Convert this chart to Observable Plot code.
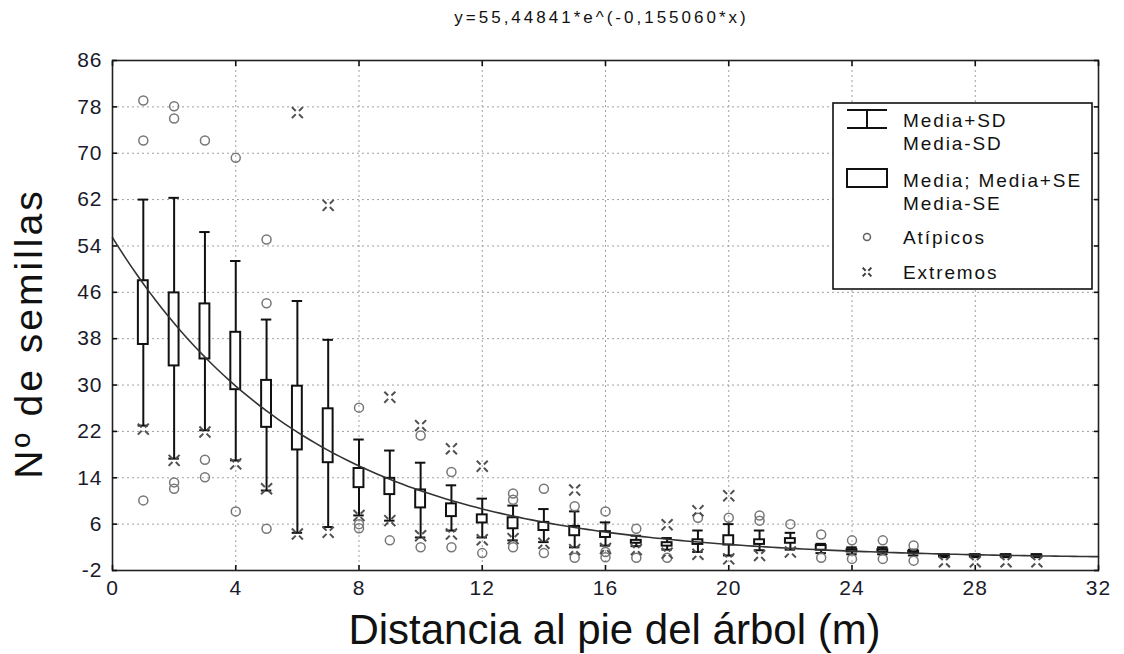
<!DOCTYPE html>
<html>
<head>
<meta charset="utf-8">
<script src="https://cdn.jsdelivr.net/npm/d3@7"></script>
<script src="https://cdn.jsdelivr.net/npm/@observablehq/plot@0.6"></script>
<style>
  body { margin: 0; background: #fff; }
  #wrap { position: relative; width: 1124px; height: 654px; font-family: "Liberation Sans", Arial, sans-serif; }
  #wrap svg text { font-family: "Liberation Sans", Arial, sans-serif; }
  #legend { position: absolute; left: 0; top: 0; pointer-events: none; }
  #legend text { font-size: 19px; letter-spacing: 1.9px; fill: #111; }
</style>
</head>
<body>
<div id="wrap"></div>
<script>
// ---- data ----
const distances     = [1,2,3,4,5,6,7,8,9,10,11,12,13,14,15,16,17,18,19,20,21,22,23,24,25,26,27,28,29,30];
const whiskerTop    = [62.0,62.3,56.4,51.4,41.3,44.5,37.8,20.6,18.7,16.6,12.7,10.4,9.2,8.6,8.2,6.3,4.0,3.6,4.9,6.0,4.9,4.5,2.6,2.0,2.0,1.6,0.8,0.8,0.8,0.8];
const boxTop        = [48.0,45.9,44.0,39.1,30.8,29.8,25.9,15.6,13.9,11.9,9.5,7.6,7.1,6.3,5.6,4.7,3.2,2.8,3.3,4.0,3.3,3.5,2.3,1.6,1.6,1.3,0.7,0.7,0.7,0.7];
const boxBottom     = [37.0,33.3,34.5,29.2,22.7,18.8,16.6,12.3,11.1,8.8,7.3,6.2,5.2,4.9,4.0,3.7,2.7,2.2,2.5,2.4,2.5,2.7,1.5,1.2,1.2,1.0,0.4,0.4,0.4,0.4];
const whiskerBottom = [23.0,17.3,22.2,17.0,11.8,4.5,5.5,7.5,6.6,3.7,4.9,3.7,3.2,2.9,2.0,2.3,2.2,1.6,1.2,0.6,1.5,1.6,1.0,0.8,0.8,0.6,0.3,0.3,0.3,0.3];

const atipicosX = [1,1,1, 2,2,2,2, 3,3,3, 4,4, 5,5,5, 8,8,8, 9, 10,10, 11,11, 12, 13,13,13, 14,14, 15,15, 16,16,16, 17,17, 18, 19, 20, 21,21, 22, 23,23, 24,24, 25,25, 26,26];
const atipicosY = [79.1,72.2,10.1, 78.1,76.0,13.2,12.1, 72.2,17.1,14.1, 69.2,8.2, 55.1,44.1,5.2, 26.1,6.0,5.3, 3.2, 21.3,2.0, 15.0,2.0, 1.0, 11.3,10.2,2.0, 12.1,1.0, 9.1,0.2, 8.2,1.2,0.3, 5.2,0.2, 0.2, 7.1, 7.1, 7.5,6.6, 6.0, 4.2,0.2, 3.2,0.0, 3.2,0.0, 2.3,-0.3];

const extremosX = [1, 2, 3, 4, 5, 6,6, 7,7, 8, 9,9, 10,10, 11,11, 12,12, 13, 14, 15,15, 16, 17, 18,18, 19,19, 20,20, 21, 22, 27, 28, 29, 30];
const extremosY = [22.4, 17.0, 21.9, 16.4, 12.1, 77.0,4.3, 61.0,4.6, 7.5, 27.9,6.6, 23.0,4.0, 19.0,4.3, 16.0,3.3, 3.5, 2.7, 11.9,1.6, 1.8, 1.6, 5.9,1.0, 8.3,0.8, 10.9,0.0, 0.6, 1.2, -0.5,-0.5,-0.5,-0.5];

const fitA = 55.44841, fitB = -0.155060;
const titleText = "y=55,44841*e^(-0,155060*x)";
const xLabel = "Distancia al pie del árbol (m)";
const yLabel = "Nº de semillas";
const xTicks = [0,4,8,12,16,20,24,28,32];
const yTicks = [-2,6,14,22,30,38,46,54,62,70,78,86];
const legendItems = ["Media+SD", "Media-SD", "Media; Media+SE", "Media-SE", "Atípicos", "Extremos"];

// ---- tables ----
const boxes = distances.map((x, i) => ({x, wt: whiskerTop[i], bt: boxTop[i], bb: boxBottom[i], wb: whiskerBottom[i]}));
const atyp = atipicosX.map((x, i) => ({x, y: atipicosY[i]}));
const extr = extremosX.map((x, i) => ({x, y: extremosY[i]}));
const curve = d3.range(0, 32.0001, 0.2).map(x => ({x, y: fitA * Math.exp(fitB * x)}));

// "extreme" symbol: four diagonal strokes with a gap in the centre
const splitTimes = {
  draw(context, size) {
    const r = Math.sqrt(size / Math.PI);
    const g = r * 0.3;
    for (const [sx, sy] of [[1,1],[1,-1],[-1,1],[-1,-1]]) {
      context.moveTo(sx * g, sy * g);
      context.lineTo(sx * r, sy * r);
    }
  }
};

const ink = "#111";
const fmt = d => String(d);
const chart = Plot.plot({
  width: 1124, height: 654,
  marginLeft: 112, marginRight: 26, marginTop: 60, marginBottom: 84,
  x: {domain: [0, 32]},
  y: {domain: [-2, 86]},
  style: {background: "#fff", color: ink, fontSize: "21px"},
  marks: [
    Plot.gridX(xTicks, {stroke: "#a0a0a0", strokeOpacity: 1, strokeDasharray: "2,3"}),
    Plot.gridY(yTicks, {stroke: "#a0a0a0", strokeOpacity: 1, strokeDasharray: "2,3"}),
    Plot.ruleX(boxes, {x: "x", y1: "wb", y2: "wt", stroke: ink, strokeWidth: 2}),
    Plot.ruleY(boxes, {y: "wt", x1: d => d.x - 0.17, x2: d => d.x + 0.17, stroke: ink, strokeWidth: 2}),
    Plot.ruleY(boxes, {y: "wb", x1: d => d.x - 0.17, x2: d => d.x + 0.17, stroke: ink, strokeWidth: 2}),
    Plot.rect(boxes, {x1: d => d.x - 0.16, x2: d => d.x + 0.16, y1: "bb", y2: "bt", fill: "#fff", stroke: ink, strokeWidth: 2}),
    Plot.line(curve, {x: "x", y: "y", stroke: "#333", strokeWidth: 1.6}),
    Plot.dot(atyp, {x: "x", y: "y", r: 4.5, stroke: "#777", strokeWidth: 1.5, fill: "none"}),
    Plot.dot(extr, {x: "x", y: "y", symbol: splitTimes, r: 5.5, stroke: "#505050", strokeWidth: 2}),
    Plot.frame({stroke: "#222", strokeWidth: 1.6}),
    Plot.axisX(xTicks, {anchor: "bottom", tickSize: 0, tickPadding: 10, label: null, tickFormat: fmt, fontSize: 21}),
    Plot.axisX(xTicks, {anchor: "bottom", tickSize: -5, tickFormat: () => "", label: null, strokeWidth: 1.6}),
    Plot.axisX(xTicks, {anchor: "top", tickSize: -5, tickFormat: () => "", label: null, strokeWidth: 1.6}),
    Plot.axisY(yTicks, {anchor: "left", tickSize: 0, tickPadding: 10, label: null, tickFormat: fmt, fontSize: 21}),
    Plot.axisY(yTicks, {anchor: "left", tickSize: -5, tickFormat: () => "", label: null, strokeWidth: 1.6}),
    Plot.axisY(yTicks, {anchor: "right", tickSize: -5, tickFormat: () => "", label: null, strokeWidth: 1.6}),
    Plot.text([titleText], {frameAnchor: "top", dy: -43, dx: -4, lineAnchor: "middle", textAnchor: "middle", fontSize: 17, fill: ink}),
    Plot.text([xLabel], {frameAnchor: "bottom", dy: 60, dx: 9, lineAnchor: "middle", textAnchor: "middle", fontSize: 42, fill: ink}),
    Plot.text([yLabel], {frameAnchor: "left", dx: -83, dy: 18, rotate: -90, lineAnchor: "middle", textAnchor: "middle", fontSize: 39, fill: ink})
  ]
});
// drop the empty labels of the tick-only axes, style the remaining texts
const sel = d3.select(chart);
sel.selectAll("text").filter(function() { return this.textContent === ""; }).remove();
const tickStrings = new Set([...xTicks, ...yTicks].map(fmt));
sel.selectAll("text").filter(function() { return tickStrings.has(this.textContent); })
  .style("font-size", "21px").style("letter-spacing", "1px").style("fill", "#1a1a2a");
sel.selectAll("text").filter(function() { return this.textContent === titleText; }).style("letter-spacing", "3px");
sel.selectAll("text").filter(function() { return this.textContent === yLabel; }).style("letter-spacing", "3px");
document.getElementById("wrap").appendChild(chart);

// ---- legend (overlay) ----
const L = d3.select("#wrap").append("svg").attr("id", "legend").attr("width", 1124).attr("height", 654);
const lx = 833, ly = 103;
const lg = L.append("g").attr("transform", `translate(${lx},${ly})`);
lg.append("rect").attr("width", 259).attr("height", 186).attr("fill", "#fff").attr("stroke", ink).attr("stroke-width", 1.6);
lg.append("path").attr("d", "M14,7H54M14,25H54M34,7V25").attr("stroke", ink).attr("stroke-width", 2).attr("fill", "none");
lg.append("rect").attr("x", 14).attr("y", 66).attr("width", 40).attr("height", 18).attr("fill", "#fff").attr("stroke", ink).attr("stroke-width", 2);
lg.append("circle").attr("cx", 34).attr("cy", 134).attr("r", 3.5).attr("fill", "none").attr("stroke", "#606060").attr("stroke-width", 1.5);
lg.append("path").attr("d", d3.symbol(splitTimes, 60)()).attr("transform", "translate(34,169)").attr("stroke", "#404040").attr("stroke-width", 2).attr("fill", "none");
const ty = [17, 40, 77, 100, 134, 169];
legendItems.forEach((t, i) => {
  lg.append("text").attr("x", 70).attr("y", ty[i]).attr("dy", "0.36em").text(t);
});
</script>
</body>
</html>
